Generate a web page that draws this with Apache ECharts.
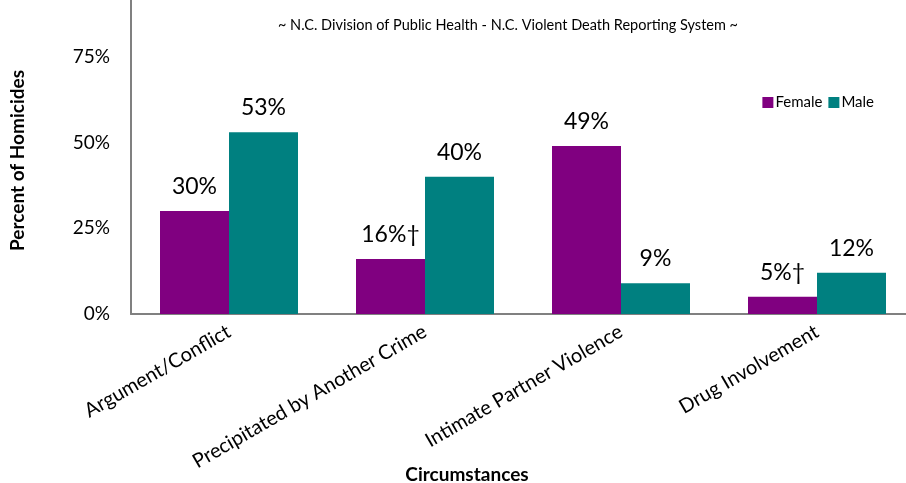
<!DOCTYPE html>
<html><head><meta charset="utf-8">
<script src="https://cdn.jsdelivr.net/npm/echarts@6/dist/echarts.min.js"></script>
<style>html,body{margin:0;padding:0;background:#fff;}#c{width:906px;height:483px;}</style>
</head><body><div id="c"></div>
<script>
var categories = ['Argument/Conflict', 'Precipitated by Another Crime', 'Intimate Partner Violence', 'Drug Involvement'];
var femaleValues = [30, 16, 49, 5];
var maleValues = [53, 40, 9, 12];
var femaleLabels = ['30%', '16%†', '49%', '5%†'];
var maleLabels = ['53%', '40%', '9%', '12%'];
var yTicks = [0, 25, 50, 75, 100];

var FONT = 'Lato';
var chart = echarts.init(document.getElementById('c'));
chart.setOption({
  animation: false,
  textStyle: {fontFamily: FONT},
  title: {
    text: '~ N.C. Division of Public Health - N.C. Violent Death Reporting System ~',
    left: 503, top: 13, textAlign: 'center',
    textStyle: {fontSize: 14.5, fontWeight: 'normal', color: '#000', fontFamily: FONT}
  },
  legend: {
    data: ['Female', 'Male'],
    right: 27, top: 90,
    itemWidth: 11, itemHeight: 11, itemGap: 6,
    icon: 'rect',
    textStyle: {fontSize: 15, color: '#000', fontFamily: FONT, padding: [0, 0, 0, -3]}
  },
  grid: {left: 131, right: -9, top: -29, bottom: 169, containLabel: false, outerBoundsMode: 'none'},
  xAxis: {
    type: 'category', data: categories,
    name: 'Circumstances', nameLocation: 'middle', nameGap: 151, nameMoveOverlap: false,
    nameTextStyle: {fontSize: 19, fontWeight: 'bold', color: '#000', fontFamily: FONT, padding: [0, 112, 0, 0]},
    axisLine: {lineStyle: {color: '#808080', width: 2}},
    axisTick: {show: false},
    axisLabel: {rotate: 30, fontSize: 20, color: '#000', margin: 16, interval: 0, fontFamily: FONT}
  },
  yAxis: {
    type: 'value', min: 0, max: 100, interval: 25,
    name: 'Percent of Homicides', nameLocation: 'middle', nameGap: 104, nameMoveOverlap: false,
    nameTextStyle: {fontSize: 19, fontWeight: 'bold', color: '#000', fontFamily: FONT, padding: [0, 36, 0, 0]},
    axisLine: {show: true, lineStyle: {color: '#808080', width: 2}},
    axisTick: {show: false},
    splitLine: {show: false},
    axisLabel: {fontSize: 19, color: '#000', margin: 21, fontFamily: FONT,
      formatter: function (v) { return yTicks.indexOf(v) >= 0 ? v + '%' : ''; }}
  },
  series: [
    {name: 'Female', type: 'bar', data: femaleValues, barWidth: 69, barGap: '0%',
      itemStyle: {color: '#800080'},
      label: {show: true, position: 'top', distance: 13, fontSize: 23, color: '#000', fontFamily: FONT,
        formatter: function (p) { return femaleLabels[p.dataIndex]; }}},
    {name: 'Male', type: 'bar', data: maleValues, barWidth: 69, barGap: '0%',
      itemStyle: {color: '#008080'},
      label: {show: true, position: 'top', distance: 13, fontSize: 23, color: '#000', fontFamily: FONT,
        formatter: function (p) { return maleLabels[p.dataIndex]; }}}
  ]
});
</script></body></html>
